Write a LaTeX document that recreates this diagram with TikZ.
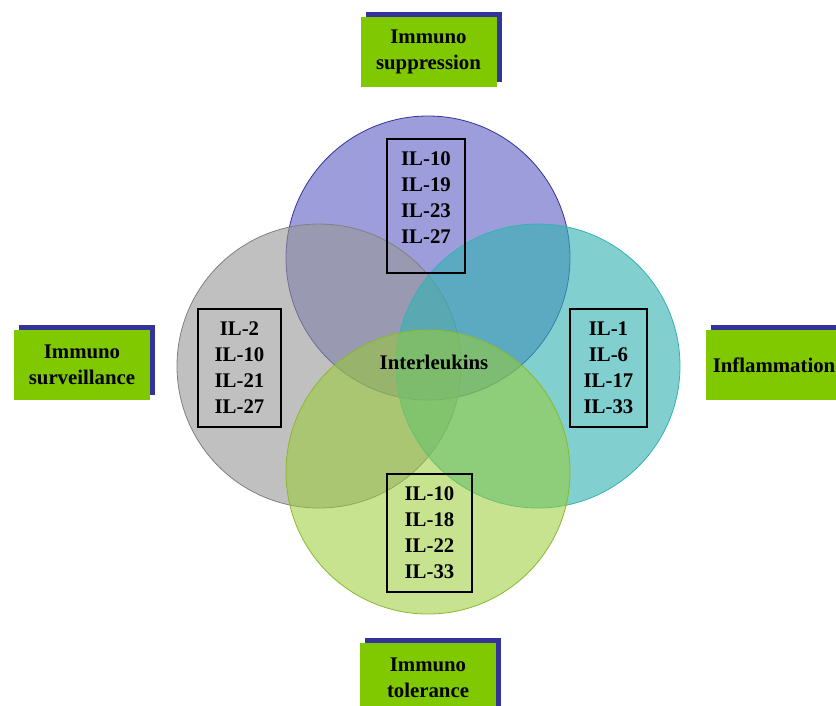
\documentclass[tikz,border=0pt]{standalone}
\usepackage{fontspec}
\setmainfont{Liberation Serif}
\usepackage{tikz}
\usetikzlibrary{
  positioning,
  shadows
}
\definecolor{labelgreen}{RGB}{128,200,0}
\definecolor{shadowblue}{RGB}{51,51,153}
\definecolor{suppblue}{RGB}{105,105,200}
\definecolor{survgray}{RGB}{150,150,150}
\definecolor{inflteal}{RGB}{51,178,178}
\definecolor{tolgreen}{RGB}{153,204,51}

\tikzset{
  ring/.style={circle,minimum size=284pt,inner sep=0pt,line width=0.8pt},
  ilbox/.style={draw=black,line width=1.2pt,inner sep=0pt},
  iltext/.style={align=center,font=\bfseries\fontsize{20.8}{26}\selectfont},
  areabox/.style={fill=labelgreen,minimum width=136pt,minimum height=70pt,
    align=center,font=\bfseries\fontsize{20.8}{26}\selectfont,
    copy shadow={shadow xshift=5pt,shadow yshift=5pt,fill=shadowblue,draw=none}}
}

\begin{document}
\begin{tikzpicture}[x=1pt,y=-1pt]
		\useasboundingbox (0,0) rectangle (836,705);
		% the four circles
		\node [ring,draw=shadowblue,fill=suppblue,fill opacity=0.65] (supp) at (428,258) {};
		\node [ring,draw=gray,fill=survgray,fill opacity=0.6] (surv) at (319,366) {};
		\node [ring,draw=inflteal,fill=inflteal,fill opacity=0.62] (infl) at (538,366) {};
		\node [ring,draw=tolgreen!90!black,fill=tolgreen,fill opacity=0.55] (tol) at (428,472) {};
		\node [iltext] (center) at (434,362) {Interleukins};
		% interleukin lists
		\node [ilbox,minimum width=78pt,minimum height=134pt] (suppbox) at (426,206) {};
		\node [iltext] (supptext) at (426,198) {IL-10\\IL-19\\IL-23\\IL-27};
		\node [ilbox,minimum width=83pt,minimum height=118pt] (survbox) at (239.5,368) {};
		\node [iltext] (survtext) at (survbox.center) {IL-2\\IL-10\\IL-21\\IL-27};
		\node [ilbox,minimum width=77pt,minimum height=118pt] (inflbox) at (608.5,368) {};
		\node [iltext] (infltext) at (inflbox.center) {IL-1\\IL-6\\IL-17\\IL-33};
		\node [ilbox,minimum width=85pt,minimum height=118pt] (tolbox) at (429.5,533) {};
		\node [iltext] (toltext) at (tolbox.center) {IL-10\\IL-18\\IL-22\\IL-33};
		% outer labels
		\node [areabox] (supplabel) at (428.5,52) {Immuno\\suppression};
		\node [areabox] (survlabel) at (82,365) {Immuno\\surveillance};
		\node [areabox] (infllabel) at (774,365) {Inflammation};
		\node [areabox] (tollabel) at (428,678) {Immuno\\tolerance};
	\end{tikzpicture}
\end{document}
